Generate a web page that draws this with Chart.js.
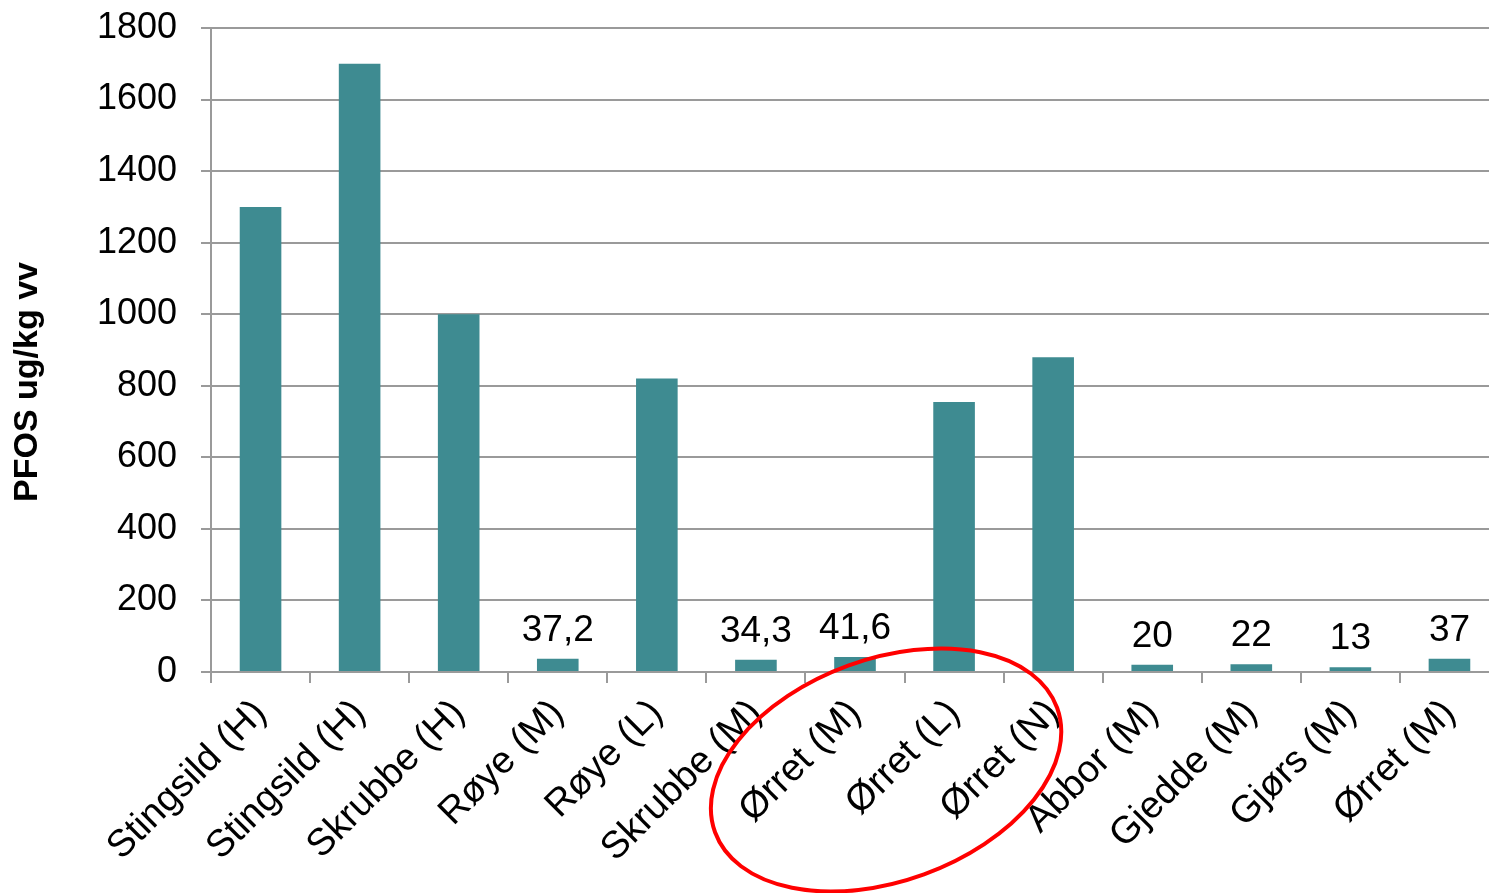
<!DOCTYPE html>
<html>
<head>
<meta charset="utf-8">
<script src="https://cdn.jsdelivr.net/npm/chart.js@4"></script>
<style>
  html, body { margin: 0; padding: 0; background: #fff; overflow: hidden; }
  #wrap { width: 1500px; height: 893px; position: relative; }
</style>
</head>
<body>
<div id="wrap"><canvas id="chart"></canvas></div>
<script>
// ---------- Data ----------
const categories = [
  "Stingsild (H)", "Stingsild (H)", "Skrubbe (H)", "Røye (M)", "Røye (L)",
  "Skrubbe (M)", "Ørret (M)", "Ørret (L)", "Ørret (N)", "Abbor (M)",
  "Gjedde (M)", "Gjørs (M)", "Ørret (M)"
];
const pfosValues = [1300, 1700, 1000, 37.2, 820, 34.3, 41.6, 755, 880, 20, 22, 13, 37];
const valueLabels = [null, null, null, "37,2", null, "34,3", "41,6", null, null, "20", "22", "13", "37"];
const yTicks = { min: 0, max: 1800, step: 200 };
const yTitle = "PFOS ug/kg vv";

const FONT = "'Liberation Sans', Arial, sans-serif";
const GRID = "#9a9a9a";

// ---------- Plugins ----------
const valueLabelPlugin = {
  id: "valueLabels",
  afterDatasetsDraw(chart) {
    const { ctx } = chart;
    const meta = chart.getDatasetMeta(0);
    ctx.save();
    ctx.font = "37px " + FONT;
    ctx.fillStyle = "#000";
    ctx.textAlign = "center";
    ctx.textBaseline = "alphabetic";
    meta.data.forEach((bar, i) => {
      if (!valueLabels[i]) return;
      ctx.fillText(valueLabels[i], bar.x, bar.y - 18);
    });
    ctx.restore();
  }
};

const annotationPlugin = {
  id: "annotations",
  afterDraw(chart) {
    const { ctx, chartArea } = chart;
    const x = chart.scales.x;

    // y axis title, drawn by hand so it sits like the original
    ctx.save();
    ctx.font = "bold 34px " + FONT;
    ctx.fillStyle = "#000";
    ctx.textAlign = "center";
    ctx.textBaseline = "middle";
    ctx.translate(28, chartArea.top + 354);
    ctx.rotate(-Math.PI / 2);
    ctx.fillText(yTitle, 0, 0);
    ctx.restore();

    // red ring round the three Ørret labels
    ctx.save();
    ctx.strokeStyle = "#ff0000";
    ctx.lineWidth = 4;
    ctx.beginPath();
    ctx.ellipse(x.getPixelForValue(7) - 68, chartArea.bottom + 98, 182, 111,
      -20 * Math.PI / 180, 0, 2 * Math.PI);
    ctx.stroke();
    ctx.restore();
  }
};

// ---------- Chart ----------
new Chart(document.getElementById("chart"), {
  type: "bar",
  data: {
    labels: categories,
    datasets: [{
      data: pfosValues,
      backgroundColor: "#3e8b91",
      barPercentage: 0.42,
      categoryPercentage: 1
    }]
  },
  options: {
    responsive: true,
    maintainAspectRatio: false,
    animation: false,
    layout: { padding: { top: 0, left: 0, right: 1, bottom: 0 } },
    plugins: {
      legend: { display: false },
      tooltip: { enabled: false }
    },
    scales: {
      x: {
        grid: {
          display: true,
          drawOnChartArea: false,
          color: GRID,
          lineWidth: 2,
          tickLength: 11
        },
        border: { color: GRID, width: 2 },
        ticks: {
          color: "#000",
          font: { family: FONT, size: 38 },
          minRotation: 45,
          maxRotation: 45,
          autoSkip: false,
          padding: 8
        },
        afterFit(scale) { scale.height = 221; }
      },
      y: {
        min: yTicks.min,
        max: yTicks.max,
        grid: { color: GRID, lineWidth: 2, tickLength: 10 },
        border: { color: GRID, width: 2 },
        ticks: {
          stepSize: yTicks.step,
          color: "#000",
          font: { family: FONT, size: 36 },
          padding: 24,
          callback: (v) => String(v)
        },
        afterFit(scale) {
          scale.width = 211;
          scale.paddingTop = 28;
          scale.paddingBottom = 20;
        }
      }
    }
  },
  plugins: [valueLabelPlugin, annotationPlugin]
});
</script>
</body>
</html>
